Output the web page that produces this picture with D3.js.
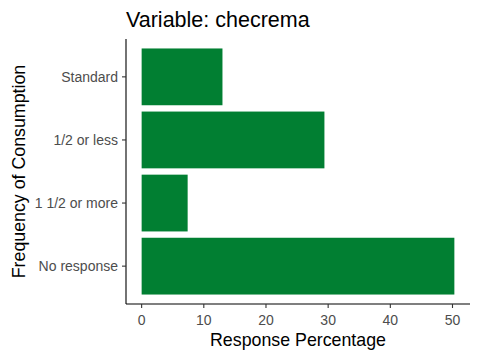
<!DOCTYPE html>
<html>
<head>
<meta charset="utf-8">
<script src="https://cdn.jsdelivr.net/npm/d3@7"></script>
<style>
  body { margin: 0; background: #fff; }
  text { font-family: "Liberation Sans", Arial, sans-serif; }
</style>
</head>
<body>
<div id="chart"></div>
<script>
// Data
const categories = ['Standard', '1/2 or less', '1 1/2 or more', 'No response'];
const percentages = [13.0, 29.4, 7.4, 50.3];
const xTicks = [0, 10, 20, 30, 40, 50];

const width = 480, height = 360;
const margin = { top: 39, right: 10, bottom: 56, left: 126 };
const innerW = width - margin.left - margin.right;
const innerH = height - margin.top - margin.bottom;

const data = categories.map((c, i) => ({ cat: c, value: percentages[i] }));

const svg = d3.select('#chart')
  .append('svg')
  .attr('width', width)
  .attr('height', height);

const g = svg.append('g')
  .attr('transform', `translate(${margin.left},${margin.top})`);

// ggplot-style 5% expansion on the continuous axis
const maxVal = d3.max(percentages);
const x = d3.scaleLinear()
  .domain([-0.05 * maxVal, 1.05 * maxVal])
  .range([0, innerW]);

// discrete axis: 0.6 unit expansion each side, bar width 0.9 of a step
const y = d3.scalePoint()
  .domain(categories)
  .range([0, innerH])
  .padding(0.6);
const barH = y.step() * 0.9;

// Bars
g.selectAll('rect.bar')
  .data(data)
  .enter()
  .append('rect')
  .attr('class', 'bar')
  .attr('x', x(0))
  .attr('y', (d) => y(d.cat) - barH / 2)
  .attr('width', (d) => x(d.value) - x(0))
  .attr('height', barH)
  .attr('fill', '#017F32');

// Axis lines
g.append('line')
  .attr('x1', 0).attr('x2', 0)
  .attr('y1', 0).attr('y2', innerH)
  .attr('stroke', '#000').attr('stroke-width', 1.1);
g.append('line')
  .attr('x1', 0).attr('x2', innerW)
  .attr('y1', innerH).attr('y2', innerH)
  .attr('stroke', '#000').attr('stroke-width', 1.1);

// X ticks
const xt = g.append('g').selectAll('g')
  .data(xTicks)
  .enter()
  .append('g')
  .attr('transform', (d) => `translate(${x(d)},${innerH})`);
xt.append('line').attr('y2', 4).attr('stroke', '#333').attr('stroke-width', 1.1);
xt.append('text')
  .attr('y', 21)
  .attr('text-anchor', 'middle')
  .attr('font-size', 14)
  .attr('fill', '#4D4D4D')
  .text((d) => d);

// Y ticks
const yt = g.append('g').selectAll('g')
  .data(categories)
  .enter()
  .append('g')
  .attr('transform', (d) => `translate(0,${y(d)})`);
yt.append('line').attr('x2', -4).attr('stroke', '#333').attr('stroke-width', 1.1);
yt.append('text')
  .attr('x', -8)
  .attr('dy', '0.35em')
  .attr('text-anchor', 'end')
  .attr('font-size', 14)
  .attr('fill', '#4D4D4D')
  .text((d) => d);

// Titles
svg.append('text')
  .attr('x', margin.left)
  .attr('y', 27)
  .attr('font-size', 21.5)
  .attr('fill', '#000')
  .text('Variable: checrema');

svg.append('text')
  .attr('x', margin.left + innerW / 2)
  .attr('y', 346)
  .attr('text-anchor', 'middle')
  .attr('font-size', 17.8)
  .attr('fill', '#000')
  .text('Response Percentage');

svg.append('text')
  .attr('transform', `translate(25,${margin.top + innerH / 2}) rotate(-90)`)
  .attr('text-anchor', 'middle')
  .attr('font-size', 17.8)
  .attr('fill', '#000')
  .text('Frequency of Consumption');
</script>
</body>
</html>
